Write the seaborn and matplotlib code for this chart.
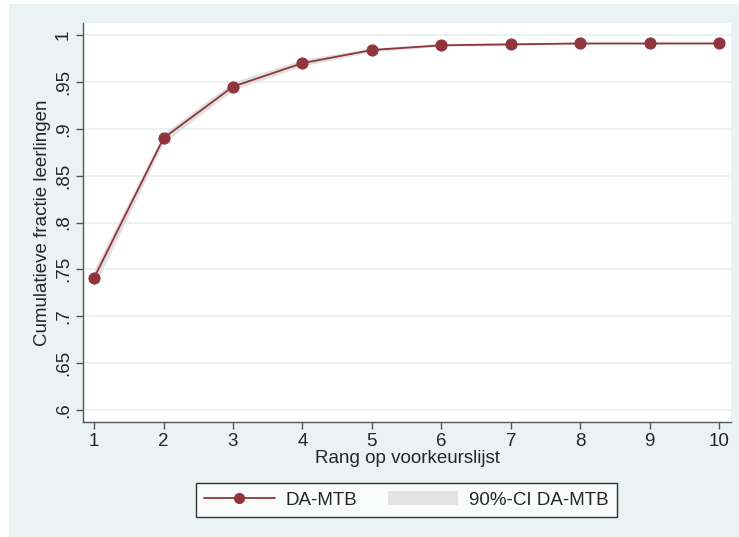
import numpy as np
import pandas as pd
import seaborn as sns
import matplotlib
matplotlib.use("Agg")
import matplotlib.pyplot as plt
from matplotlib.patches import Rectangle, Patch
from matplotlib.lines import Line2D

rank = [1, 2, 3, 4, 5, 6, 7, 8, 9, 10]
frac = [0.741, 0.890, 0.945, 0.970, 0.984, 0.989, 0.990, 0.991, 0.991, 0.991]
ci_low = [0.731, 0.885, 0.941, 0.967, 0.982, 0.988, 0.989, 0.990, 0.990, 0.990]
ci_high = [0.750, 0.895, 0.950, 0.974, 0.986, 0.991, 0.992, 0.992, 0.992, 0.992]
yticks = [0.6, 0.65, 0.7, 0.75, 0.8, 0.85, 0.9, 0.95, 1.0]
ytick_labels = [".6", ".65", ".7", ".75", ".8", ".85", ".9", ".95", "1"]

sns.set_style("white")
plt.rcParams['font.family'] = ['Liberation Sans', 'DejaVu Sans']

df = pd.DataFrame({"rank": rank, "frac": frac})

fig = plt.figure(figsize=(7.39, 5.37), dpi=100)
fig.patch.set_facecolor("white")
bg = "#eaf2f3"
fig.patches.append(Rectangle((9/739, 0), 1 - 9/739, 1 - 4/537, transform=fig.transFigure,
                             facecolor=bg, edgecolor="none", zorder=-10))

ax = fig.add_axes([83/739, 1 - 422/537, (731 - 83)/739, (422 - 23)/537])
ax.set_facecolor("white")

red = "#90353b"
fs = 13.5
ax.fill_between(rank, ci_low, ci_high, color="#e0e0e0", linewidth=0, zorder=2)
sns.lineplot(data=df, x="rank", y="frac", ax=ax, color=red, linewidth=1.3,
             marker="o", markersize=8, markeredgecolor=red, markerfacecolor=red, zorder=3)

ax.set_xlim(0.84, 10.17)
ax.set_ylim(0.5872, 1.0128)
ax.set_xticks(rank)
ax.set_xticklabels([str(r) for r in rank], fontsize=fs)
ax.set_yticks(yticks)
ax.set_yticklabels(ytick_labels, fontsize=fs, rotation=90, va="center")
for y in yticks:
    ax.axhline(y, color="#e6eff1", linewidth=1.1, zorder=1)

for s in ["top", "right"]:
    ax.spines[s].set_visible(False)
for s in ["left", "bottom"]:
    ax.spines[s].set_color("#555555")
    ax.spines[s].set_linewidth(1.0)
ax.tick_params(axis="both", which="both", length=5, width=1, color="#555555",
               direction="out", bottom=True, left=True, pad=3)

ax.set_xlabel("Rang op voorkeurslijst", fontsize=fs, labelpad=0)
ax.set_ylabel("Cumulatieve fractie leerlingen", fontsize=fs, labelpad=3)

handles = [Line2D([0], [0], color=red, linewidth=1.3, marker="o", markersize=7,
                  markerfacecolor=red, markeredgecolor=red),
           Patch(facecolor="#e3e3e3", edgecolor="none")]
leg = fig.legend(handles, ["DA-MTB", "90%-CI DA-MTB"], loc="center",
                 bbox_to_anchor=((193 + 620) / 2 / 739, 1 - 500 / 537), ncol=2,
                 frameon=True, fontsize=fs, handlelength=3.75, handleheight=0.75,
                 columnspacing=1.6, handletextpad=0.6, borderpad=0.45, fancybox=False)
leg.get_frame().set_edgecolor("black")
leg.get_frame().set_linewidth(1.0)
leg.get_frame().set_facecolor("white")

fig.savefig("out.png", dpi=100, facecolor=fig.get_facecolor())
